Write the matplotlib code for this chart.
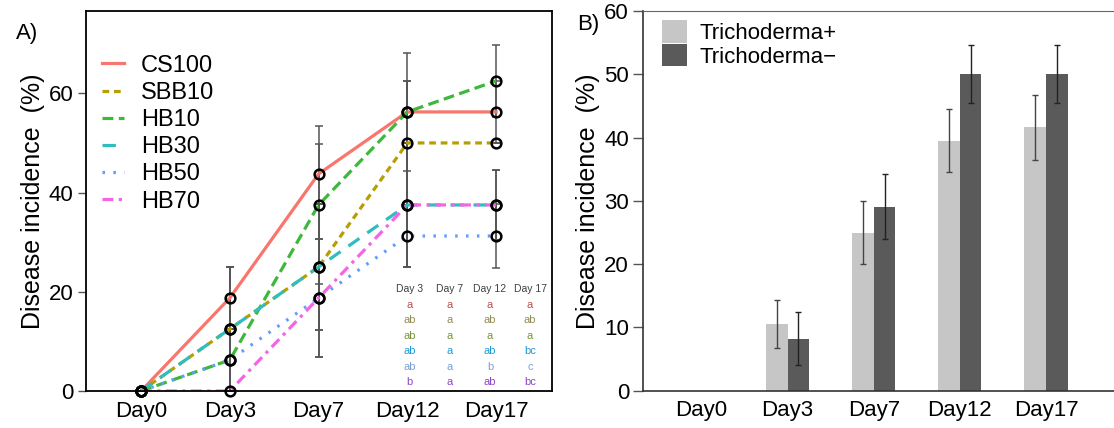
import numpy as np
import matplotlib
matplotlib.use('Agg')
from matplotlib import pyplot as plt
from matplotlib.patches import Patch

plt.rcParams['font.family'] = ['Liberation Sans', 'DejaVu Sans']

# panel A data
days = ['Day0', 'Day3', 'Day7', 'Day12', 'Day17']
treatments = ['CS100', 'SBB10', 'HB10', 'HB30', 'HB50', 'HB70']
cs100 = [0, 18.75, 43.75, 56.25, 56.25]
sbb10 = [0, 12.5, 25.0, 50.0, 50.0]
hb10 = [0, 6.25, 37.5, 56.25, 62.5]
hb30 = [0, 12.5, 25.0, 37.5, 37.5]
hb50 = [0, 6.25, 18.75, 31.25, 31.25]
hb70 = [0, 0, 18.75, 37.5, 37.5]
cs100_err = [0, 6.25, 6.05, 11.9, 6.25]
sbb10_err = [0, 12.5, 12.7, 12.5, 0]
hb10_err = [0, 6.25, 16.0, 6.25, 7.2]
hb30_err = [0, 12.5, 12.7, 12.5, 7.0]
hb50_err = [0, 6.25, 11.9, 6.25, 6.5]
hb70_err = [0, 0, 11.9, 12.5, 7.0]

# letters table (Duncan groups)
table_days = ['Day 3', 'Day 7', 'Day 12', 'Day 17']
letters = [['a', 'a', 'a', 'a'],
           ['ab', 'a', 'ab', 'ab'],
           ['ab', 'a', 'a', 'a'],
           ['ab', 'a', 'ab', 'bc'],
           ['ab', 'a', 'b', 'c'],
           ['b', 'a', 'ab', 'bc']]

# panel B data
tri_plus = [0, 10.5, 25.0, 39.5, 41.6]
tri_minus = [0, 8.2, 29.1, 50.1, 50.1]
tri_plus_err = [0, 3.8, 5.0, 5.0, 5.2]
tri_minus_err = [0, 4.2, 5.2, 4.6, 4.6]

series = [cs100, sbb10, hb10, hb30, hb50, hb70]
errs = [cs100_err, sbb10_err, hb10_err, hb30_err, hb50_err, hb70_err]
colors = ['#F8766D', '#B79F00', '#3DB83A', '#2FBDBF', '#619CFF', '#F564E3']
dash_list = [None, (2.1, 1.5), (3.4, 1.7), (4.2, 3.0), (0.8, 2.6), (3.4, 1.7, 1.0, 1.7)]
letter_colors = ['#C0504D', '#948A54', '#77933C', '#1E9BD7', '#7F9FD3', '#8E44C8']

fig = plt.figure(figsize=(11.14, 4.28), dpi=100)
axA = fig.add_axes([0.0772, 0.0864, 0.4183, 0.888])
axB = fig.add_axes([0.5772, 0.0871, 0.4228, 0.8872])

x = np.arange(len(days))

# ---- panel A ----
for y, e in zip(series, errs):
    axA.errorbar(x, y, yerr=e, fmt='none', ecolor='#555555', elinewidth=1.1,
                 capsize=3, capthick=1.1, zorder=1)
for y, name, c, d in zip(series, treatments, colors, dash_list):
    if d is None:
        axA.plot(x, y, color=c, lw=2.3, label=name, zorder=2)
    else:
        axA.plot(x, y, color=c, lw=2.3, dashes=d, label=name, zorder=2)
for y in series:
    axA.plot(x, y, 'o', ms=7, mfc='none', mec='black', mew=1.8,
             clip_on=False, zorder=4)

axA.set_xlim(-0.62, 4.63)
axA.set_ylim(0, 76.6)
axA.set_yticks([0, 20, 40, 60])
axA.set_xticks(x)
axA.set_xticklabels(days)
axA.tick_params(axis='y', length=6, width=1, color='#555555', labelsize=16, pad=3)
axA.tick_params(axis='x', length=0, labelsize=16, pad=7)
for s in axA.spines.values():
    s.set_linewidth(1.3)
    s.set_color('black')
axA.set_ylabel('Disease incidence  (%)', fontsize=18, labelpad=3)
axA.legend(loc='upper left', bbox_to_anchor=(0.034, 0.885), frameon=False,
           fontsize=17, handlelength=0.95, handletextpad=0.7, labelspacing=0.22,
           borderpad=0, borderaxespad=0)

col_x = [0.695, 0.781, 0.867, 0.953]
row_y = [0.226, 0.187, 0.146, 0.105, 0.063, 0.024]
for cx, dname in zip(col_x, table_days):
    axA.text(cx, 0.268, dname, transform=axA.transAxes, ha='center', va='center',
             fontsize=7.5, color='#404040')
for r, row in enumerate(letters):
    for cx, lt in zip(col_x, row):
        axA.text(cx, row_y[r], lt, transform=axA.transAxes, ha='center',
                 va='center', fontsize=8, color=letter_colors[r])

fig.text(0.014, 0.91, 'A)', fontsize=16)

# ---- panel B ----
w = 0.25
axB.bar(x - w / 2, tri_plus, w, color='#C6C6C6', label='Trichoderma+', zorder=1)
axB.bar(x + w / 2, tri_minus, w, color='#5A5A5A', label='Trichoderma\u2212', zorder=1)
axB.errorbar(x[1:] - w / 2, tri_plus[1:], yerr=tri_plus_err[1:], fmt='none',
             ecolor='#444444', elinewidth=1, capsize=2.5, capthick=1, zorder=2)
axB.errorbar(x[1:] + w / 2, tri_minus[1:], yerr=tri_minus_err[1:], fmt='none',
             ecolor='#222222', elinewidth=1, capsize=2.5, capthick=1, zorder=2)
axB.set_xlim(-0.68, 4.79)
axB.set_ylim(0, 60)
axB.set_yticks(range(0, 61, 10))
axB.set_xticks(x)
axB.set_xticklabels(days)
axB.tick_params(axis='y', length=7, width=1, color='#555555', labelsize=16, pad=3)
axB.tick_params(axis='x', length=0, labelsize=16, pad=7)
axB.spines['right'].set_visible(False)
axB.spines['top'].set_color('#666666')
axB.spines['top'].set_linewidth(0.8)
axB.spines['left'].set_color('#333333')
axB.spines['bottom'].set_color('#333333')
axB.spines['left'].set_linewidth(1.2)
axB.spines['bottom'].set_linewidth(1.2)
axB.set_ylabel('Disease incidence  (%)', fontsize=18, labelpad=3)
handles = [Patch(facecolor='#C6C6C6'), Patch(facecolor='#5A5A5A')]
axB.legend(handles, ['Trichoderma+', 'Trichoderma\u2212'], loc='upper left',
           bbox_to_anchor=(0.04, 0.975), frameon=False, fontsize=16,
           handlelength=1.15, handleheight=1.15, handletextpad=0.55,
           labelspacing=0.0, borderpad=0, borderaxespad=0)

fig.text(0.518, 0.93, 'B)', fontsize=16)

fig.savefig('out.png', dpi=100)
